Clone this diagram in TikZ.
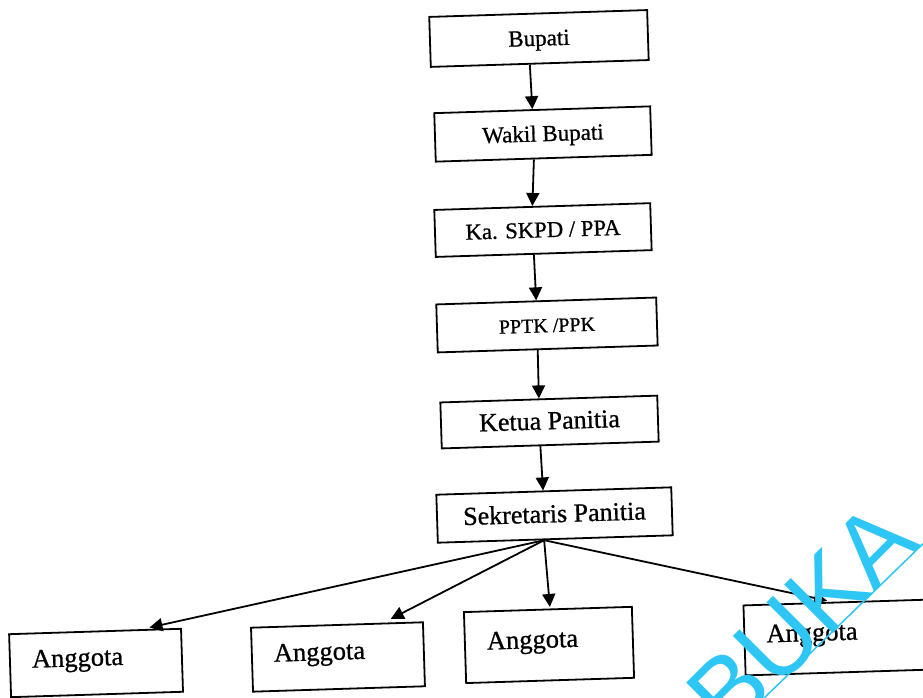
\documentclass[tikz,border=0pt]{standalone}
\usepackage{fontspec}
\setmainfont{Liberation Serif}[FakeBold=0.8]
\newfontfamily\wmfont{Liberation Sans}
\usetikzlibrary{calc,arrows.meta}
\definecolor{wmblue}{RGB}{45,198,245}
\begin{document}
\begin{tikzpicture}[x=1pt,y=-1pt,
  box/.style={draw, line width=1.8pt, rectangle, inner sep=0pt},
  topbox/.style={box, text height=1.5em, text depth=0.05em},
  memberbox/.style={box, inner xsep=22pt, inner ysep=0pt, align=left, text height=12pt, text depth=6.5pt, font=\fontsize{26.5}{30}\selectfont},
  arr/.style={line width=1.8pt, -{Triangle[length=13pt,width=13pt]}}]
\useasboundingbox (0,0) rectangle (923,697);
\fill[white] (0,0) rectangle (923,697);
\clip (0,0) rectangle (923,697);
\begin{scope}[rotate around={1.8:(460,350)}, transform shape]
\node[topbox, minimum width=218pt, minimum height=50pt, font=\fontsize{23}{27}\selectfont] (bupati) at (548.7,41.1) {Bupati};
\node[topbox, minimum width=216pt, minimum height=48.5pt, font=\fontsize{23}{27}\selectfont] (wakil) at (549.7,136.7) {Wakil Bupati};
\node[topbox, minimum width=216pt, minimum height=47pt, font=\fontsize{22.7}{27}\selectfont] (ka) at (546.7,232.7) {Ka. SKPD / PPA};
\node[topbox, minimum width=220pt, minimum height=48pt, font=\fontsize{20}{24}\selectfont] (pptk) at (547.7,327.7) {PPTK /PPK};
\node[topbox, minimum width=217pt, minimum height=46pt, font=\fontsize{26}{30}\selectfont] (ketua) at (547.2,424.8) {Ketua Panitia};
\node[topbox, minimum width=235pt, minimum height=48pt, font=\fontsize{26}{30}\selectfont] (sek) at (549.3,517.9) {Sekretaris Panitia};
\node[memberbox, minimum width=172pt, text width=128pt, minimum height=63pt] (a1) at (86.4,651.4) {Anggota};
\node[memberbox, minimum width=172pt, text width=128pt, minimum height=64pt] (a2) at (328.4,653) {Anggota};
\node[memberbox, minimum width=168pt, text width=124pt, minimum height=71pt] (a3) at (539.7,647.6) {Anggota};
\node[memberbox, minimum width=215pt, text width=171pt, minimum height=70pt] (a4) at (842.8,649.2) {Anggota};
\draw[arr] ($(bupati.south west)!0.455!(bupati.south east)$) -- ($(wakil.north west)!0.455!(wakil.north east)$);
\draw[arr] ($(wakil.south west)!0.455!(wakil.south east)$) -- ($(ka.north west)!0.455!(ka.north east)$);
\draw[arr] ($(ka.south west)!0.455!(ka.south east)$) -- ($(pptk.north west)!0.455!(pptk.north east)$);
\draw[arr] ($(pptk.south west)!0.455!(pptk.south east)$) -- ($(ketua.north west)!0.455!(ketua.north east)$);
\draw[arr] ($(ketua.south west)!0.455!(ketua.south east)$) -- ($(sek.north west)!0.455!(sek.north east)$);
\draw[arr, shorten >=7pt] ($(sek.south west)!0.453!(sek.south east)$) -- ($(a1.north west)!0.774!(a1.north east)$);
\draw[arr, shorten >=8pt] ($(sek.south west)!0.453!(sek.south east)$) -- ($(a2.north west)!0.769!(a2.north east)$);
\draw[arr, shorten >=1.5pt] ($(sek.south west)!0.453!(sek.south east)$) -- ($(a3.north west)!0.513!(a3.north east)$);
\draw[arr, shorten >=5pt] ($(sek.south west)!0.453!(sek.south east)$) -- ($(a4.north west)!0.413!(a4.north east)$);
\end{scope}
\node[text=wmblue, rotate=45, anchor=base east, inner sep=0pt, font=\wmfont\fontsize{100}{100}\selectfont] (wm) at (922,545) {TERBUKA};
\draw[wmblue, line width=1.5pt] (760,702) -- (930,537);
\end{tikzpicture}
\end{document}
